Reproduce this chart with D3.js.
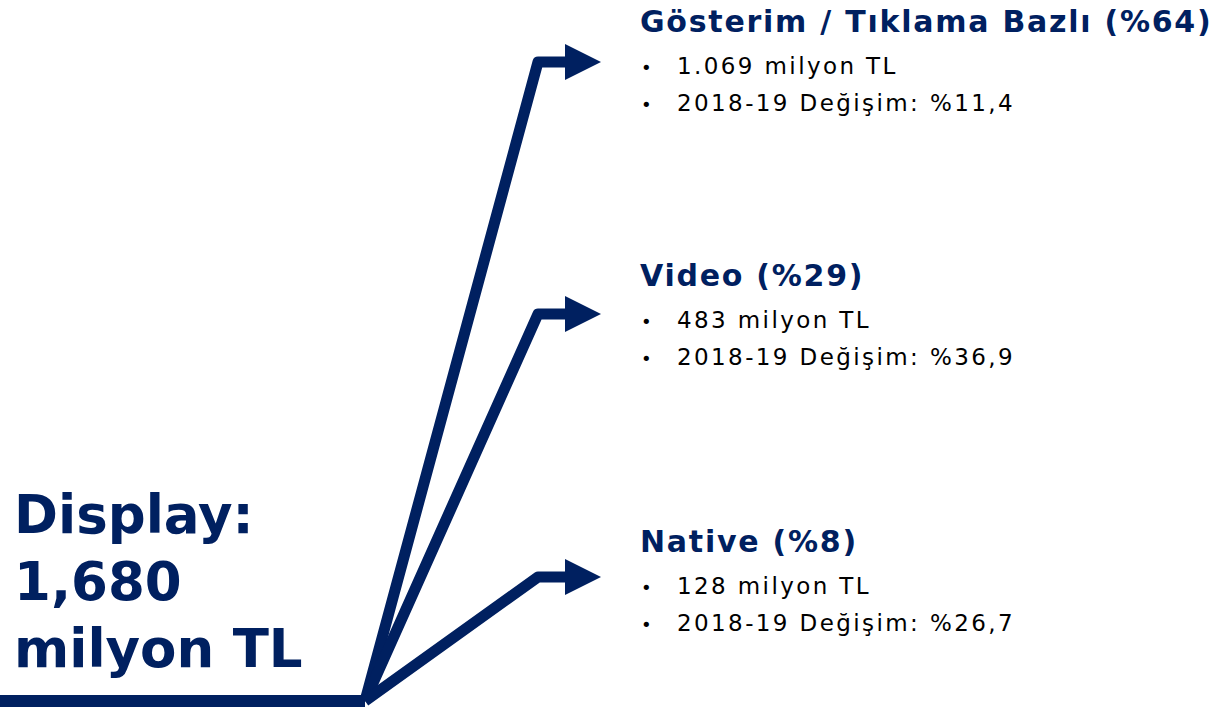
<!DOCTYPE html>
<html>
<head>
<meta charset="utf-8">
<script src="https://cdn.jsdelivr.net/npm/d3@7"></script>
<style>
  body { margin: 0; background: #fff; }
  svg { display: block; }
</style>
</head>
<body>
<svg id="chart" width="1220" height="707"></svg>
<script>
// values
const categories = ["Gösterim / Tıklama Bazlı", "Video", "Native"];
const shares = [64, 29, 8];
const amounts = ["1.069", "483", "128"];
const changes = ["11,4", "36,9", "26,7"];
const totalLines = ["Display:", "1,680", "milyon TL"];

const NAVY = "#002060";

const svg = d3.select("#chart");

// branch rows (arrow heights and label baselines)
const y = d3.scaleOrdinal()
  .domain(categories)
  .range([62, 314, 577]);
const ty = d3.scaleOrdinal()
  .domain(categories)
  .range([32, 286, 552]);

const apex = [365, 701];
const cornerX = 538;
const headX = 565, tipX = 601, headHalf = 18;

const line = d3.line();

// base bar
svg.append("path")
  .attr("d", line([[0, apex[1]], apex]))
  .attr("stroke", NAVY)
  .attr("stroke-width", 12)
  .attr("fill", "none");

categories.forEach(c => {
  const yy = y(c);
  svg.append("path")
    .attr("d", line([apex, [cornerX, yy], [headX + 2, yy]]))
    .attr("stroke", NAVY)
    .attr("stroke-width", 11)
    .attr("stroke-linejoin", "round")
    .attr("fill", "none");

  svg.append("path")
    .attr("d", line([[headX, yy - headHalf], [tipX, yy], [headX, yy + headHalf]]) + "Z")
    .attr("fill", NAVY);
});

// labels on the right
categories.forEach((c, i) => {
  const g = svg.append("g").attr("transform", `translate(0,${ty(c)})`);
  g.append("text")
    .attr("x", 640)
    .attr("y", 0)
    .attr("font-family", "DejaVu Sans")
    .attr("font-weight", "bold")
    .attr("font-size", 30)
    .attr("letter-spacing", 1.75)
    .attr("fill", NAVY)
    .text(`${c} (%${shares[i]})`);

  const bullets = [`${amounts[i]} milyon TL`, `2018-19 Değişim: %${changes[i]}`];
  bullets.forEach((b, j) => {
    const by = 42 + j * 37;
    g.append("text")
      .attr("x", 641)
      .attr("y", by)
      .attr("font-family", "DejaVu Sans")
      .attr("font-size", 18)
      .attr("fill", "#000")
      .text("•");
    g.append("text")
      .attr("x", 677)
      .attr("y", by)
      .attr("font-family", "DejaVu Sans")
      .attr("font-size", 23)
      .attr("letter-spacing", 2.4)
      .attr("fill", "#000")
      .text(b);
  });
});

// total label
svg.append("text")
  .attr("font-family", "DejaVu Sans")
  .attr("font-weight", "bold")
  .attr("font-size", 53)
  .attr("fill", NAVY)
  .selectAll("tspan")
  .data(totalLines)
  .join("tspan")
  .attr("x", 14)
  .attr("y", (d, i) => 533 + i * 67)
  .text(d => d);
</script>
</body>
</html>
